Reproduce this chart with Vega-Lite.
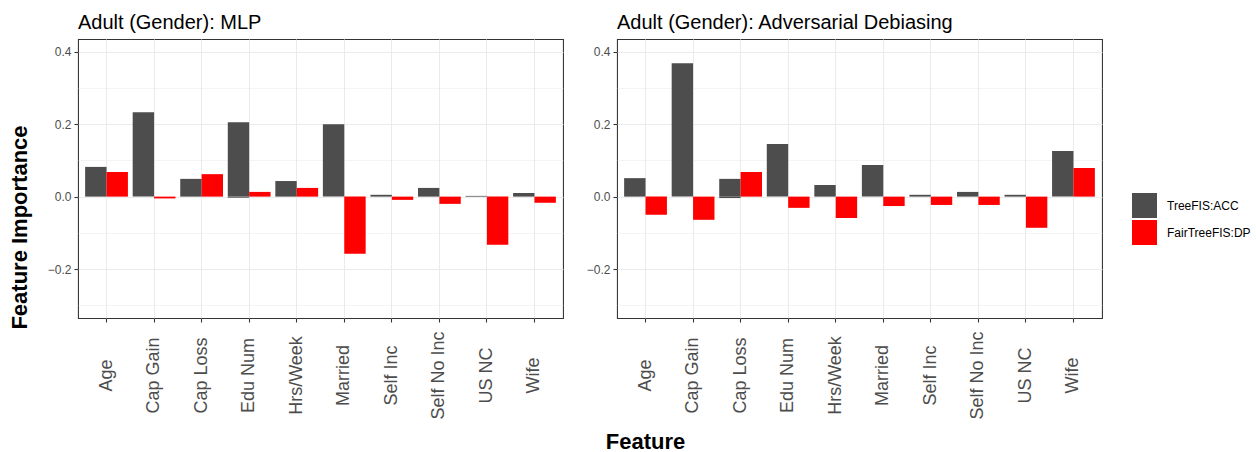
{
  "$schema": "https://vega.github.io/schema/vega-lite/v6.json",
  "padding": {"left": 7, "top": 12, "right": 0, "bottom": 0},
  "autosize": {"type": "pad"},
  "background": "white",
  "config": {
    "font": "Liberation Sans",
    "view": {"stroke": "#333333", "strokeWidth": 1.07},
    "title": {"font": "Liberation Sans"},
    "axis": {"labelFont": "Liberation Sans", "titleFont": "Liberation Sans"},
    "legend": {"labelFont": "Liberation Sans"}
  },
  "data": {
    "values": [
      {"model": "MLP", "feature": "Age", "type": "TreeFIS:ACC", "value": 0.082},
      {"model": "MLP", "feature": "Cap Gain", "type": "TreeFIS:ACC", "value": 0.233},
      {"model": "MLP", "feature": "Cap Loss", "type": "TreeFIS:ACC", "value": 0.049},
      {"model": "MLP", "feature": "Edu Num", "type": "TreeFIS:ACC", "value": 0.205},
      {"model": "MLP", "feature": "Edu Num", "type": "TreeFIS:ACC", "value": -0.003},
      {"model": "MLP", "feature": "Hrs/Week", "type": "TreeFIS:ACC", "value": 0.043},
      {"model": "MLP", "feature": "Married", "type": "TreeFIS:ACC", "value": 0.200},
      {"model": "MLP", "feature": "Self Inc", "type": "TreeFIS:ACC", "value": 0.005},
      {"model": "MLP", "feature": "Self No Inc", "type": "TreeFIS:ACC", "value": 0.024},
      {"model": "MLP", "feature": "US NC", "type": "TreeFIS:ACC", "value": 0.002},
      {"model": "MLP", "feature": "Wife", "type": "TreeFIS:ACC", "value": 0.010},
      {"model": "MLP", "feature": "Age", "type": "FairTreeFIS:DP", "value": 0.068},
      {"model": "MLP", "feature": "Cap Gain", "type": "FairTreeFIS:DP", "value": -0.005},
      {"model": "MLP", "feature": "Cap Loss", "type": "FairTreeFIS:DP", "value": 0.062},
      {"model": "MLP", "feature": "Edu Num", "type": "FairTreeFIS:DP", "value": 0.013},
      {"model": "MLP", "feature": "Hrs/Week", "type": "FairTreeFIS:DP", "value": 0.024},
      {"model": "MLP", "feature": "Married", "type": "FairTreeFIS:DP", "value": -0.158},
      {"model": "MLP", "feature": "Self Inc", "type": "FairTreeFIS:DP", "value": -0.009},
      {"model": "MLP", "feature": "Self No Inc", "type": "FairTreeFIS:DP", "value": -0.020},
      {"model": "MLP", "feature": "US NC", "type": "FairTreeFIS:DP", "value": -0.133},
      {"model": "MLP", "feature": "Wife", "type": "FairTreeFIS:DP", "value": -0.017},
      {"model": "Adv", "feature": "Age", "type": "TreeFIS:ACC", "value": 0.051},
      {"model": "Adv", "feature": "Cap Gain", "type": "TreeFIS:ACC", "value": 0.368},
      {"model": "Adv", "feature": "Cap Loss", "type": "TreeFIS:ACC", "value": 0.049},
      {"model": "Adv", "feature": "Cap Loss", "type": "TreeFIS:ACC", "value": -0.004},
      {"model": "Adv", "feature": "Edu Num", "type": "TreeFIS:ACC", "value": 0.145},
      {"model": "Adv", "feature": "Hrs/Week", "type": "TreeFIS:ACC", "value": 0.032},
      {"model": "Adv", "feature": "Married", "type": "TreeFIS:ACC", "value": 0.087},
      {"model": "Adv", "feature": "Self Inc", "type": "TreeFIS:ACC", "value": 0.005},
      {"model": "Adv", "feature": "Self No Inc", "type": "TreeFIS:ACC", "value": 0.013},
      {"model": "Adv", "feature": "US NC", "type": "TreeFIS:ACC", "value": 0.005},
      {"model": "Adv", "feature": "Wife", "type": "TreeFIS:ACC", "value": 0.126},
      {"model": "Adv", "feature": "Age", "type": "FairTreeFIS:DP", "value": -0.050},
      {"model": "Adv", "feature": "Cap Gain", "type": "FairTreeFIS:DP", "value": -0.064},
      {"model": "Adv", "feature": "Cap Loss", "type": "FairTreeFIS:DP", "value": 0.068},
      {"model": "Adv", "feature": "Edu Num", "type": "FairTreeFIS:DP", "value": -0.031},
      {"model": "Adv", "feature": "Hrs/Week", "type": "FairTreeFIS:DP", "value": -0.059},
      {"model": "Adv", "feature": "Married", "type": "FairTreeFIS:DP", "value": -0.026},
      {"model": "Adv", "feature": "Self Inc", "type": "FairTreeFIS:DP", "value": -0.023},
      {"model": "Adv", "feature": "Self No Inc", "type": "FairTreeFIS:DP", "value": -0.023},
      {"model": "Adv", "feature": "US NC", "type": "FairTreeFIS:DP", "value": -0.086},
      {"model": "Adv", "feature": "Wife", "type": "FairTreeFIS:DP", "value": 0.079}
    ]
  },
  "spacing": 54,
  "bounds": "flush",
  "resolve": {"scale": {"y": "shared", "color": "shared"}},
  "hconcat": [
    {
      "title": {"text": "Adult (Gender): MLP", "anchor": "start", "frame": "group", "fontSize": 20, "fontWeight": "normal", "color": "#000000", "offset": -10, "baseline": "alphabetic"},
      "width": 485,
      "height": 279,
      "transform": [{"filter": "datum.model === 'MLP'"}],
      "mark": {"type": "bar"},
      "encoding": {
        "x": {
          "field": "feature", "type": "nominal",
          "scale": {"paddingInner": 0.1, "paddingOuter": 0.15},
          "axis": {
            "title": "Feature", "titleFontSize": 22, "titleFontWeight": "bold", "titleColor": "#000000",
            "titleX": 567, "titleY": 130, "titleAlign": "center", "titleBaseline": "alphabetic", "titleAngle": 0,
            "labelAngle": 270, "labelAlign": "center", "labelBaseline": "middle", "labelFontSize": 18,
            "labelColor": "#4D4D4D", "labelPadding": 53, "labelLimit": 0, "labelOverlap": false,
            "tickSize": 4, "tickColor": "#333333", "tickWidth": 1.07, "domain": false,
            "grid": true, "gridColor": "#EBEBEB", "gridWidth": 1.07, "bandPosition": 0.5
          }
        },
        "xOffset": {"field": "type", "type": "nominal", "scale": {"domain": ["TreeFIS:ACC", "FairTreeFIS:DP"], "paddingInner": 0, "paddingOuter": 0}},
        "y": {
          "field": "value", "type": "quantitative", "stack": null,
          "scale": {"domain": [-0.335, 0.435], "nice": false, "zero": false},
          "axis": {
            "title": "Feature Importance", "titleFontSize": 22, "titleFontWeight": "bold", "titleColor": "#000000",
            "titleAngle": 270, "titleX": -51.5, "titleY": 188, "titleAlign": "center", "titleBaseline": "alphabetic",
            "values": [-0.3, -0.2, -0.1, 0, 0.1, 0.2, 0.3, 0.4],
            "labelExpr": "round(abs(datum.value) * 10) % 2 === 1 ? '' : datum.label",
            "labelFontSize": 12, "labelColor": "#4D4D4D", "labelPadding": 3,
            "tickSize": 4, "tickColor": "#333333", "tickWidth": 1.07,
            "tickOpacity": {"condition": {"test": "round(abs(datum.value) * 10) % 2 === 1", "value": 0}, "value": 1},
            "domain": false, "grid": true, "gridColor": "#EBEBEB",
            "gridWidth": {"condition": {"test": "round(abs(datum.value) * 10) % 2 === 1", "value": 0.53}, "value": 1.07}
          }
        },
        "color": {
          "field": "type", "type": "nominal",
          "scale": {"domain": ["TreeFIS:ACC", "FairTreeFIS:DP"], "range": ["#4D4D4D", "#FF0000"]},
          "legend": {
            "title": null, "orient": "none", "legendX": 1054, "legendY": 154, "padding": 0,
            "symbolType": "square", "symbolSize": 625, "symbolStrokeWidth": 0, "symbolOpacity": 1,
            "labelFontSize": 12, "labelColor": "#000000", "labelOffset": 10, "rowPadding": 2
          }
        }
      }
    },
    {
      "title": {"text": "Adult (Gender): Adversarial Debiasing", "anchor": "start", "frame": "group", "fontSize": 20, "fontWeight": "normal", "color": "#000000", "offset": -10, "baseline": "alphabetic"},
      "width": 485,
      "height": 279,
      "transform": [{"filter": "datum.model === 'Adv'"}],
      "mark": {"type": "bar"},
      "encoding": {
        "x": {
          "field": "feature", "type": "nominal",
          "scale": {"paddingInner": 0.1, "paddingOuter": 0.15},
          "axis": {
            "title": null,
            "labelAngle": 270, "labelAlign": "center", "labelBaseline": "middle", "labelFontSize": 18,
            "labelColor": "#4D4D4D", "labelPadding": 53, "labelLimit": 0, "labelOverlap": false,
            "tickSize": 4, "tickColor": "#333333", "tickWidth": 1.07, "domain": false,
            "grid": true, "gridColor": "#EBEBEB", "gridWidth": 1.07, "bandPosition": 0.5
          }
        },
        "xOffset": {"field": "type", "type": "nominal", "scale": {"domain": ["TreeFIS:ACC", "FairTreeFIS:DP"], "paddingInner": 0, "paddingOuter": 0}},
        "y": {
          "field": "value", "type": "quantitative", "stack": null,
          "scale": {"domain": [-0.335, 0.435], "nice": false, "zero": false},
          "axis": {
            "title": null,
            "values": [-0.3, -0.2, -0.1, 0, 0.1, 0.2, 0.3, 0.4],
            "labelExpr": "round(abs(datum.value) * 10) % 2 === 1 ? '' : datum.label",
            "labelFontSize": 12, "labelColor": "#4D4D4D", "labelPadding": 3,
            "tickSize": 4, "tickColor": "#333333", "tickWidth": 1.07,
            "tickOpacity": {"condition": {"test": "round(abs(datum.value) * 10) % 2 === 1", "value": 0}, "value": 1},
            "domain": false, "grid": true, "gridColor": "#EBEBEB",
            "gridWidth": {"condition": {"test": "round(abs(datum.value) * 10) % 2 === 1", "value": 0.53}, "value": 1.07}
          }
        },
        "color": {
          "field": "type", "type": "nominal",
          "scale": {"domain": ["TreeFIS:ACC", "FairTreeFIS:DP"], "range": ["#4D4D4D", "#FF0000"]}
        }
      }
    }
  ]
}
